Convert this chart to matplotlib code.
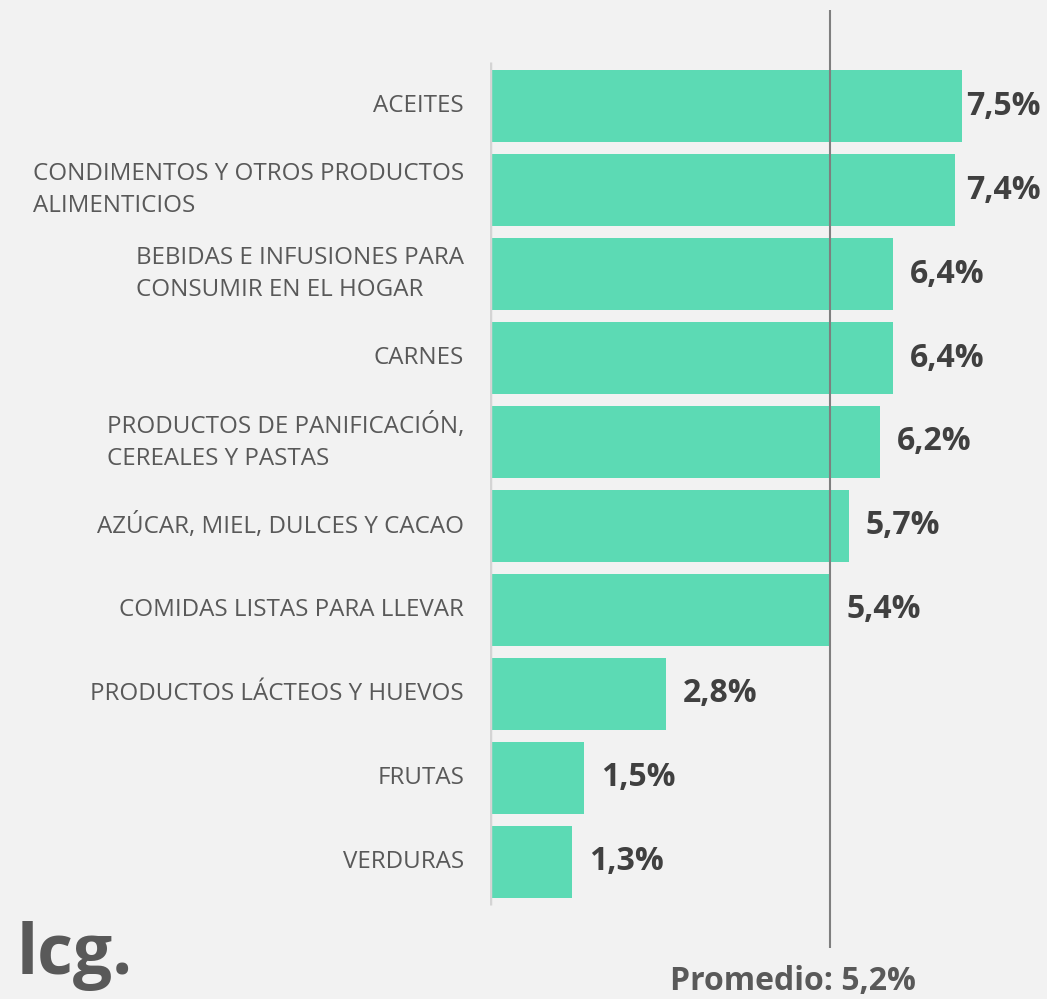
import numpy as np
from matplotlib import pyplot as plt

# data
categorias = ["ACEITES",
              "CONDIMENTOS Y OTROS PRODUCTOS\nALIMENTICIOS",
              "BEBIDAS E INFUSIONES PARA\nCONSUMIR EN EL HOGAR",
              "CARNES",
              "PRODUCTOS DE PANIFICACIÓN,\nCEREALES Y PASTAS",
              "AZÚCAR, MIEL, DULCES Y CACAO",
              "COMIDAS LISTAS PARA LLEVAR",
              "PRODUCTOS LÁCTEOS Y HUEVOS",
              "FRUTAS",
              "VERDURAS"]
valores = [7.5, 7.4, 6.4, 6.4, 6.2, 5.7, 5.4, 2.8, 1.5, 1.3]
etiquetas = ["7,5%", "7,4%", "6,4%", "6,4%", "6,2%", "5,7%", "5,4%", "2,8%", "1,5%", "1,3%"]
promedio_txt = "Promedio: 5,2%"
promedio_pos = 5.4  # where the reference draws the average line

plt.rcParams['font.family'] = ['Open Sans', 'DejaVu Sans']
bg = "#f2f2f2"

fig = plt.figure(figsize=(10.47, 9.99), dpi=100, facecolor=bg)
W, H = 1047, 999
px = 62.9  # pixels per unit on x
# axes from x=490px to right edge, y=10px to 948px
ax = fig.add_axes([490 / W, 1 - 948 / H, (W - 490) / W, 938 / H])
ax.set_facecolor(bg)
ax.patch.set_alpha(0)

y = np.arange(len(valores))
ax.barh(y, valores, height=0.85, color="#5cdab4", zorder=2)
xmax = (W - 490) / px
ax.set_xlim(0, xmax)
ax.set_ylim(10.024, -1.143)

# left axis line
ax.plot([0, 0], [-0.52, 9.51], color="#d4d4d4", lw=2.5, zorder=3, solid_capstyle="butt")
# average line
ax.axvline(promedio_pos, color="#7f7f7f", lw=1.5, zorder=4)

# value labels, pushed in from the right edge when they don't fit
ancho = 76 / px
limite = (1041 - 490) / px
for yi, v, t in zip(y, valores, etiquetas):
    x = v + 17 / px
    if x + ancho > limite:
        ax.text(limite, yi, t, va="center", ha="right", fontsize=23,
                fontweight="bold", color="#404040")
    else:
        ax.text(x, yi, t, va="center", ha="left", fontsize=23,
                fontweight="bold", color="#404040")

for yi, c in zip(y, categorias):
    ax.text(-26 / px, yi, c, va="center", ha="right", multialignment="left",
            fontsize=17.4, color="#595959", linespacing=1.45)

for s in ax.spines.values():
    s.set_visible(False)
ax.set_xticks([])
ax.set_yticks([])

fig.text(793 / W, 1 - 982 / H, promedio_txt, ha="center", va="center",
         fontsize=23, fontweight="bold", color="#595959")
fig.text(17 / W, 1 - 956 / H, "lcg.", ha="left", va="center",
         fontsize=50, fontweight="bold", color="#595959")

plt.savefig("out.png", dpi=100, facecolor=bg)
plt.close()
